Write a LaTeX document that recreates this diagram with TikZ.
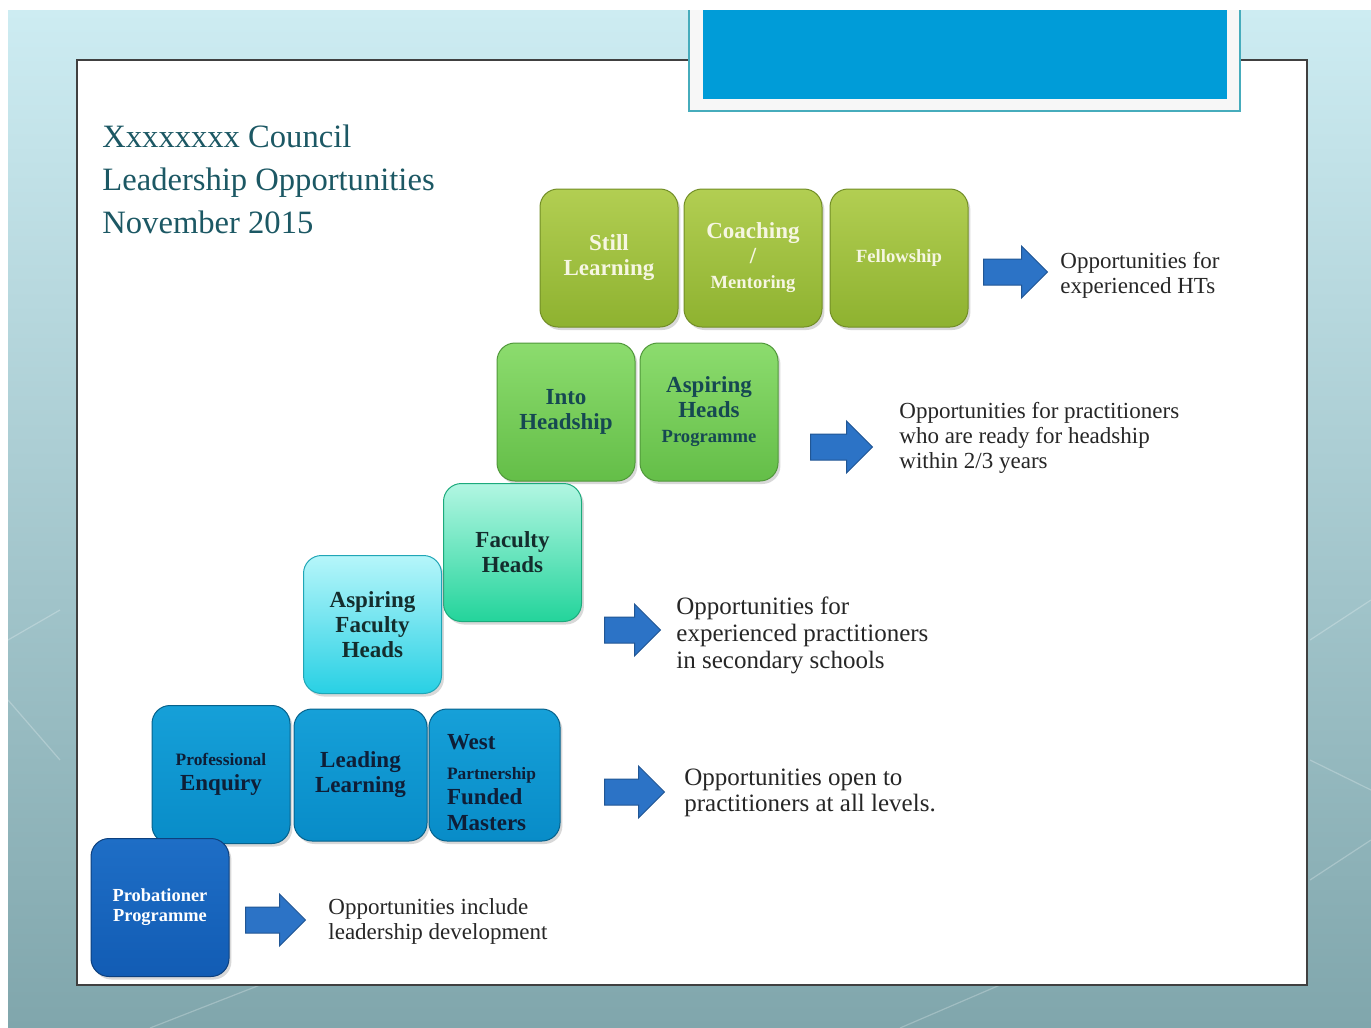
\documentclass[tikz,border=0pt]{standalone}
\usepackage{fontspec}
\setmainfont{Liberation Serif}
\usetikzlibrary{shapes.arrows,shadows}

\begin{document}
\begin{tikzpicture}[x=0.5pt,y=-0.5pt,
  stepbox/.style={rounded corners=9pt, minimum width=69pt, minimum height=69pt,
    inner sep=2pt, align=center, line width=0.5pt,
    font=\bfseries\fontsize{11.5}{12.5}\selectfont,
    drop shadow={shadow xshift=1.2pt, shadow yshift=-1.5pt, opacity=0.3}},
  olivebox/.style={stepbox, top color=oliveTop, bottom color=oliveBot, draw=oliveBot!80!black, text=creamText},
  leafbox/.style={stepbox, top color=leafTop, bottom color=leafBot, draw=leafBot!80!black, text=deepTeal},
  mintbox/.style={stepbox, top color=mintTop, bottom color=mintBot, draw=mintBot!80!black, text=inkDark},
  cyanbox/.style={stepbox, top color=cyanTop, bottom color=cyanBot, draw=cyanBot!80!black, text=inkDark},
  skybox/.style={stepbox, top color=skyTop, bottom color=skyBot, draw=skyBot!70!black, text=inkNavy},
  navybox/.style={stepbox, top color=navyTop, bottom color=navyBot, draw=navyBot!70!black, text=white},
  fatarrow/.style={single arrow, anchor=tail, fill=arrowBlue, draw=arrowBlue!75!black, line width=0.5pt,
    inner sep=0pt, text height=12.5pt, text depth=0pt, minimum height=32pt,
    single arrow head extend=6.5pt},
  note/.style={anchor=west, align=left, inner sep=0pt, text=black!85, font=\fontsize{11.5}{12.5}\selectfont},
  titletext/.style={anchor=base west, inner sep=0pt, text=titleTeal, font=\fontsize{16.3}{18}\selectfont}]

% --- CONFIGURATION ---
\definecolor{titleTeal}{RGB}{28,88,100}
\definecolor{oliveTop}{RGB}{178,206,82}
\definecolor{oliveBot}{RGB}{142,178,48}
\definecolor{leafTop}{RGB}{140,220,110}
\definecolor{leafBot}{RGB}{100,190,72}
\definecolor{mintTop}{RGB}{178,246,226}
\definecolor{mintBot}{RGB}{35,212,155}
\definecolor{cyanTop}{RGB}{182,246,250}
\definecolor{cyanBot}{RGB}{40,208,228}
\definecolor{skyTop}{RGB}{22,160,216}
\definecolor{skyBot}{RGB}{8,140,200}
\definecolor{navyTop}{RGB}{30,110,198}
\definecolor{navyBot}{RGB}{18,92,180}
\definecolor{creamText}{RGB}{246,246,226}
\definecolor{deepTeal}{RGB}{22,72,82}
\definecolor{inkDark}{RGB}{20,45,45}
\definecolor{inkNavy}{RGB}{14,30,55}
\definecolor{arrowBlue}{RGB}{44,115,198}
\definecolor{bannerBlue}{RGB}{0,156,216}
\definecolor{bannerRim}{RGB}{70,172,188}
\definecolor{bgTop}{RGB}{205,236,242}
\definecolor{bgBot}{RGB}{128,166,172}
\def\boxsmall{\fontsize{9.3}{11}\selectfont}
\def\boxtiny{\fontsize{8.7}{10}\selectfont}

\useasboundingbox (0,0) rectangle (1371,1028);

% --- BACKGROUND ---
\shade[top color=bgTop, bottom color=bgBot] (8,10) rectangle (1371,1028);
\foreach \xa/\ya/\xb/\yb in {1310/640/1371/600, 1310/760/1371/790, 1310/880/1371/840,
    150/1028/260/985, 900/1028/1000/985, 8/640/60/610, 8/700/60/760}
{
  \draw[white, opacity=0.25, line width=0.6pt] (\xa,\ya) -- (\xb,\yb);
}

% --- SLIDE PANEL ---
\draw[fill=white, draw=black!75, line width=0.7pt] (77,60) rectangle (1307,985);

% --- BANNER (Top Right) ---
\draw[fill=black!3, draw=bannerRim, line width=1.3pt] (689,10) -- (689,111) -- (1240,111) -- (1240,10);
\fill[bannerBlue] (703,10) rectangle (1227,99);

% --- TITLE ---
\node[titletext] (council) at (102,147) {Xxxxxxxx Council};
\node[titletext] (subject) at (102,190) {Leadership Opportunities};
\node[titletext] (date)    at (102,233) {November 2015};

% --- STEP 5 (Top) ---
\node[olivebox] (still)  at (609,258) {Still\\Learning};
\node[olivebox] (coach)  at (753,258) {Coaching\\/\\{\boxsmall Mentoring}};
\node[olivebox] (fellow) at (899,258) {\boxsmall Fellowship};
\node[fatarrow] (arrHT) at (983,272) {};
\node[note] (noteHT) at (1060,275) {Opportunities for\\experienced HTs};

% --- STEP 4 ---
\node[leafbox] (into)    at (566,412) {Into\\Headship};
\node[leafbox] (aspHead) at (709,412) {Aspiring\\Heads\\{\boxsmall Programme}};
\node[fatarrow, minimum height=31pt] (arrHead) at (810,447) {};
\node[note] (noteHead) at (899,438) {Opportunities for practitioners\\who are ready for headship\\within 2/3 years};

% --- STEP 3 ---
\node[mintbox] (faculty) at (512.5,552.5) {Faculty\\Heads};
\node[cyanbox] (aspFac)  at (372.5,624.5) {Aspiring\\Faculty\\Heads};
\node[fatarrow, minimum height=28pt] (arrSec) at (604,630) {};
\node[note, font=\fontsize{12.5}{13.5}\selectfont] (noteSec) at (676,635)
  {Opportunities for\\experienced practitioners\\in secondary schools};

% --- STEP 2 ---
\node[skybox] (profEnq) at (221,774.5) {{\boxtiny Professional}\\Enquiry};
\node[skybox, minimum width=66.5pt, minimum height=66pt] (leadLearn) at (360.5,775) {Leading\\Learning};
\node[skybox, minimum width=65.5pt, minimum height=66pt, align=left, text width=47.5pt, inner xsep=9pt]
  (westMast) at (494.5,775) {\rule{0pt}{15pt}West\\[2.5pt]{\boxtiny Partnership}\\Funded\\[0.5pt]Masters};
\node[fatarrow, minimum height=30pt] (arrAll) at (604,792) {};
\node[note, font=\fontsize{12.5}{13}\selectfont] (noteAll) at (684,793)
  {Opportunities open to\\practitioners at all levels.};

% --- STEP 1 (Bottom) ---
\node[navybox, font=\bfseries\fontsize{9.2}{10}\selectfont] (prob) at (160,907.5) {Probationer\\Programme};
\node[fatarrow, minimum height=30pt] (arrProb) at (245,920) {};
\node[note] (noteProb) at (328,921) {Opportunities include\\leadership development};

\end{tikzpicture}
\end{document}
